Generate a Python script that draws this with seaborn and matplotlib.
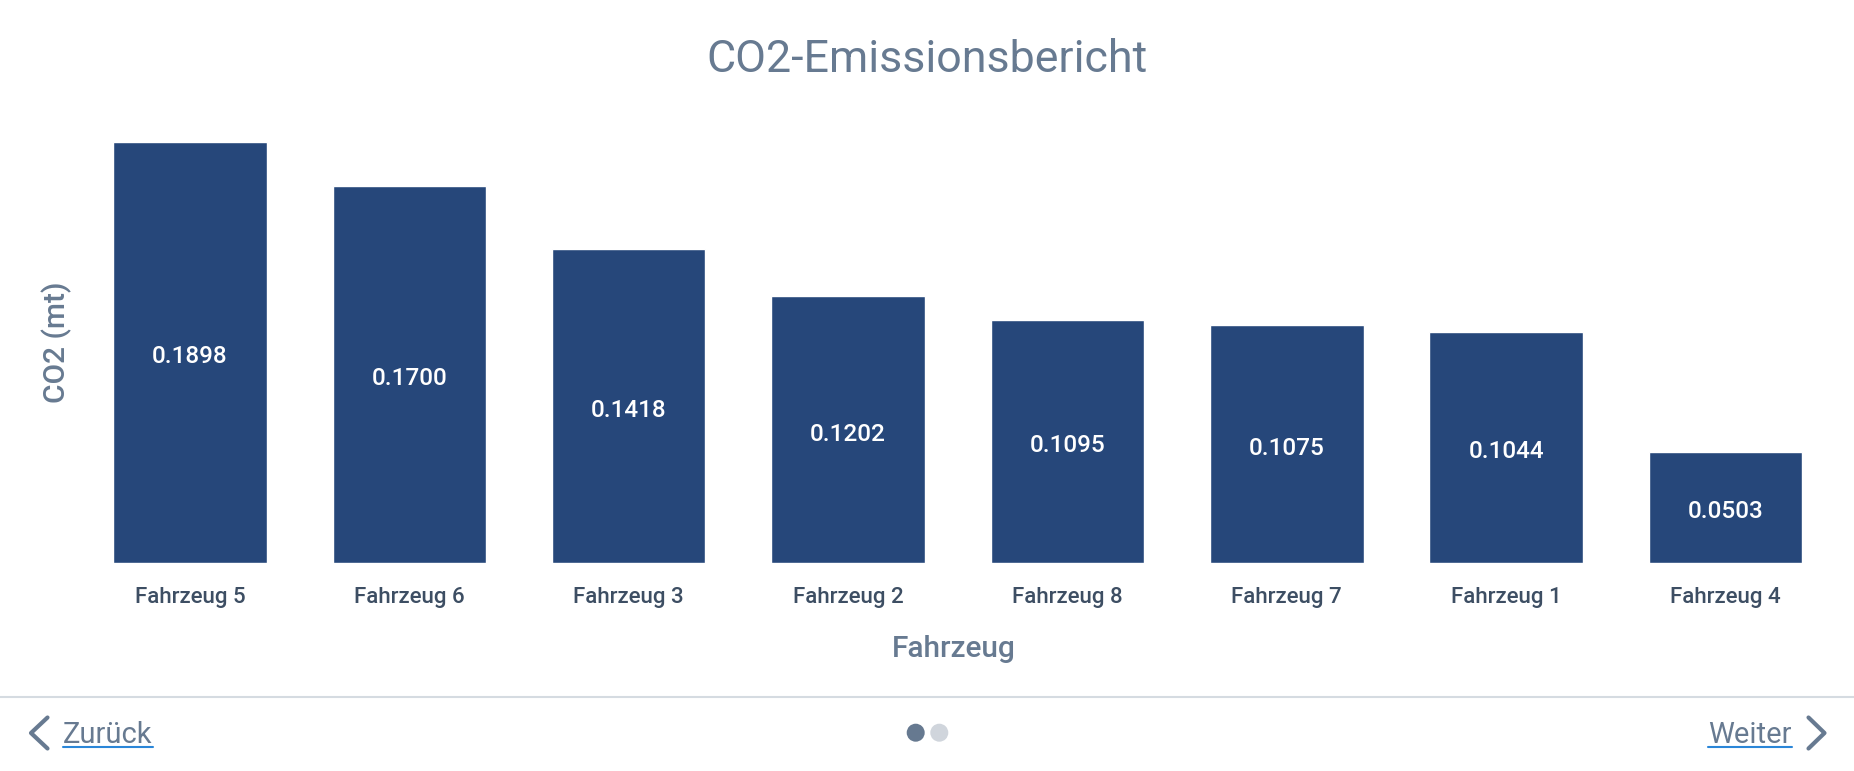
import matplotlib
matplotlib.use("Agg")
import matplotlib.pyplot as plt
import seaborn as sns
import pandas as pd
from matplotlib.lines import Line2D
from matplotlib.patches import Circle

# === Data ===
vehicles = ['Fahrzeug 5', 'Fahrzeug 6', 'Fahrzeug 3', 'Fahrzeug 2',
            'Fahrzeug 8', 'Fahrzeug 7', 'Fahrzeug 1', 'Fahrzeug 4']
co2_values = [0.1898, 0.1700, 0.1418, 0.1202, 0.1095, 0.1075, 0.1044, 0.0503]

title_text = 'CO2-Emissionsbericht'
x_label = 'Fahrzeug'
y_label = 'CO2 (mt)'
back_text = 'Zurück'
next_text = 'Weiter'

# === Colours ===
BAR = '#26477a'
SLATE = '#677a91'
TICK = '#3d4e63'
DIVIDER = '#d5dbe1'
LINK = '#2a86d8'
DOT_ON = '#667990'
DOT_OFF = '#d0d5dc'

sns.set_style('white')
plt.rcParams['font.family'] = ['Roboto', 'DejaVu Sans']

W, H = 1854, 771
fig = plt.figure(figsize=(W / 100, H / 100), dpi=100)


def fx(px):
    return px / W


def fy(py):
    return 1 - py / H


# === Bar chart ===
ax = fig.add_axes([fx(80.3), fy(563.3), fx(1835.2) - fx(80.3), fy(119.3) - fy(563.3)])
df = pd.DataFrame({'Fahrzeug': vehicles, 'CO2': co2_values})
sns.barplot(data=df, x='Fahrzeug', y='CO2', color=BAR, saturation=1,
            width=0.7, ax=ax)
ax.set_xlim(-0.5, len(vehicles) - 0.5)
ax.set_ylim(0, 0.2)
ax.set_xlabel('')
ax.set_ylabel('')
ax.set_yticks([])
sns.despine(ax=ax, left=True, bottom=True)
ax.tick_params(axis='x', length=0, pad=17, labelsize=16, labelcolor=TICK)
for lbl in ax.get_xticklabels():
    lbl.set_fontweight('medium')

ax.bar_label(ax.containers[0], labels=[f"{v:.4f}" for v in co2_values],
             label_type='center', color='white', fontsize=17.5,
             fontweight='medium', padding=-3)

# === Titles ===
fig.text(fx(927.5), fy(71.7), title_text, ha='center', va='baseline',
         fontsize=32.2, color=SLATE)
fig.text(fx(954), fy(656.7), x_label, ha='center', va='baseline',
         fontsize=21.5, color=SLATE, fontweight='medium')
fig.text(fx(57), fy(342.7), y_label, ha='center', va='center', rotation=90,
         fontsize=21.5, color=SLATE, fontweight='medium')

# === Footer navigation ===
fig.add_artist(Line2D([0, 1], [fy(696.7)] * 2, transform=fig.transFigure,
                      color=DIVIDER, lw=1.5))

t_back = fig.text(fx(63), fy(743), back_text, ha='left', va='baseline',
                  fontsize=21, color=SLATE)
t_next = fig.text(fx(1791.7), fy(743.3), next_text, ha='right', va='baseline',
                  fontsize=21, color=SLATE)

# chevrons
fig.add_artist(Line2D([fx(47.5), fx(31), fx(47.5)], [fy(717.5), fy(733), fy(748.5)],
                      transform=fig.transFigure, color=SLATE, lw=3,
                      solid_capstyle='round', solid_joinstyle='round'))
fig.add_artist(Line2D([fx(1808.5), fx(1824.5), fx(1808.5)], [fy(717.5), fy(733), fy(748.5)],
                      transform=fig.transFigure, color=SLATE, lw=3,
                      solid_capstyle='round', solid_joinstyle='round'))

# page dots
fig.add_artist(Circle((915.7 / 100, (H - 732.7) / 100), 0.09,
                      transform=fig.dpi_scale_trans, color=DOT_ON, lw=0))
fig.add_artist(Circle((939.3 / 100, (H - 732.7) / 100), 0.09,
                      transform=fig.dpi_scale_trans, color=DOT_OFF, lw=0))

# underline the links
fig.canvas.draw()
renderer = fig.canvas.get_renderer()
for t in (t_back, t_next):
    bb = t.get_window_extent(renderer)
    fig.add_artist(Line2D([fx(bb.x0), fx(bb.x1)], [fy(746.8)] * 2,
                          transform=fig.transFigure, color=LINK, lw=1.5))

fig.savefig('out.png', dpi=100)
